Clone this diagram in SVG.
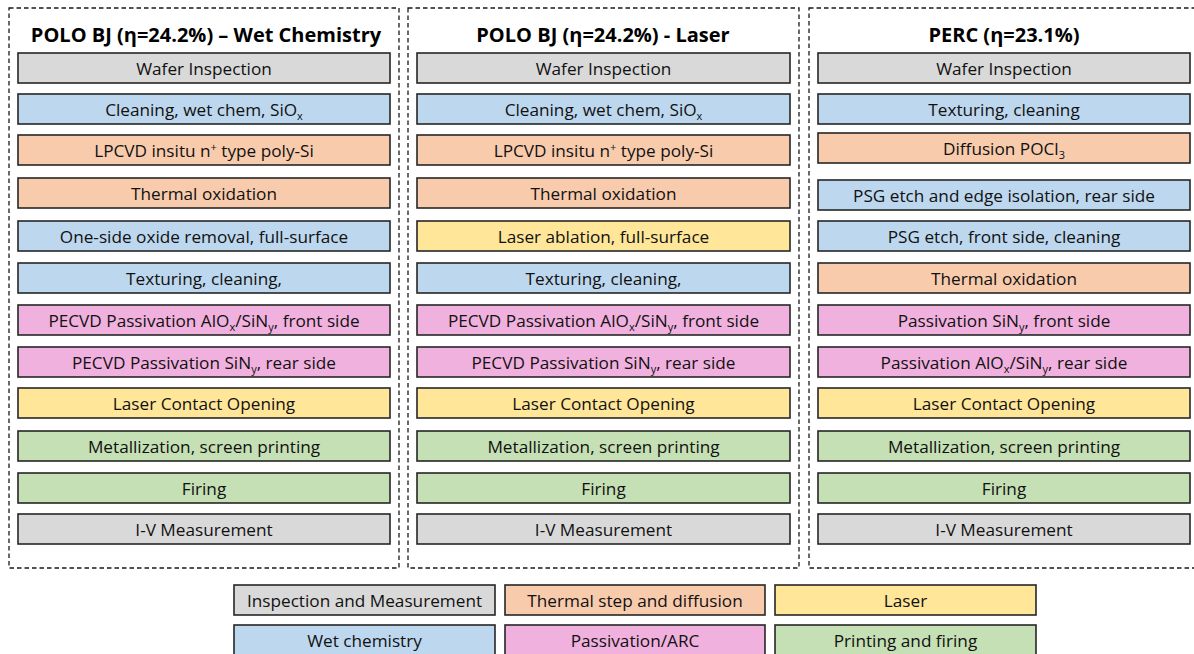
<svg xmlns="http://www.w3.org/2000/svg" width="1194" height="654" viewBox="0 0 1194 654">
<style>
.frame{fill:none;stroke:#1a1a1a;stroke-width:1.3;stroke-dasharray:4.5 3}
.b{stroke:#262626;stroke-width:1.6}
.g{fill:#D9D9D9}.bl{fill:#BDD7EE}.o{fill:#F8CBAD}.y{fill:#FFE699}.p{fill:#F1B1DF}.gr{fill:#C5E0B4}
.t{font-family:"Open Sans","Noto Sans",sans-serif;font-size:17.2px;fill:#111;text-anchor:middle}
.h{font-family:"Open Sans","Noto Sans",sans-serif;font-size:20px;font-weight:bold;fill:#000;text-anchor:middle}
.s{font-size:11px}
</style>
<g id="frames">
<rect class="frame" x="9" y="8" width="390" height="560"/>
<rect class="frame" x="408" y="8" width="391" height="560"/>
<rect class="frame" x="809" y="8" width="390" height="560"/>
</g>
<g id="titles">
<text class="h" x="206" y="42">POLO BJ (η=24.2%) – Wet Chemistry</text>
<text class="h" x="603" y="42">POLO BJ (η=24.2%) - Laser</text>
<text class="h" x="1004" y="42">PERC (η=23.1%)</text>
</g>
<g id="col1">
<g id="c1n1"><rect class="b g" x="18" y="53" width="372" height="30"/><text class="t" x="204" y="75">Wafer Inspection</text></g>
<g id="c1n2"><rect class="b bl" x="18" y="94" width="372" height="30"/><text class="t" x="204" y="116">Cleaning, wet chem, SiO<tspan class="s" dy="4">x</tspan></text></g>
<g id="c1n3"><rect class="b o" x="18" y="135" width="372" height="30"/><text class="t" x="204" y="157">LPCVD insitu n<tspan class="s" dy="-6">+</tspan><tspan dy="6"> type poly-Si</tspan></text></g>
<g id="c1n4"><rect class="b o" x="18" y="178" width="372" height="30"/><text class="t" x="204" y="200">Thermal oxidation</text></g>
<g id="c1n5"><rect class="b bl" x="18" y="221" width="372" height="30"/><text class="t" x="204" y="243">One-side oxide removal, full-surface</text></g>
<g id="c1n6"><rect class="b bl" x="18" y="263" width="372" height="30"/><text class="t" x="204" y="285">Texturing, cleaning,</text></g>
<g id="c1n7"><rect class="b p" x="18" y="305" width="372" height="30"/><text class="t" x="204" y="327">PECVD Passivation AlO<tspan class="s" dy="4">x</tspan><tspan dy="-4">/SiN</tspan><tspan class="s" dy="4">y</tspan><tspan dy="-4">, front side</tspan></text></g>
<g id="c1n8"><rect class="b p" x="18" y="347" width="372" height="30"/><text class="t" x="204" y="369">PECVD Passivation SiN<tspan class="s" dy="4">y</tspan><tspan dy="-4">, rear side</tspan></text></g>
<g id="c1n9"><rect class="b y" x="18" y="388" width="372" height="30"/><text class="t" x="204" y="410">Laser Contact Opening</text></g>
<g id="c1n10"><rect class="b gr" x="18" y="431" width="372" height="30"/><text class="t" x="204" y="453">Metallization, screen printing</text></g>
<g id="c1n11"><rect class="b gr" x="18" y="473" width="372" height="30"/><text class="t" x="204" y="495">Firing</text></g>
<g id="c1n12"><rect class="b g" x="18" y="514" width="372" height="30"/><text class="t" x="204" y="536">I-V Measurement</text></g>
</g>
<g id="col2">
<g id="c2n1"><rect class="b g" x="417" y="53" width="373" height="30"/><text class="t" x="603.5" y="75">Wafer Inspection</text></g>
<g id="c2n2"><rect class="b bl" x="417" y="94" width="373" height="30"/><text class="t" x="603.5" y="116">Cleaning, wet chem, SiO<tspan class="s" dy="4">x</tspan></text></g>
<g id="c2n3"><rect class="b o" x="417" y="135" width="373" height="30"/><text class="t" x="603.5" y="157">LPCVD insitu n<tspan class="s" dy="-6">+</tspan><tspan dy="6"> type poly-Si</tspan></text></g>
<g id="c2n4"><rect class="b o" x="417" y="178" width="373" height="30"/><text class="t" x="603.5" y="200">Thermal oxidation</text></g>
<g id="c2n5"><rect class="b y" x="417" y="221" width="373" height="30"/><text class="t" x="603.5" y="243">Laser ablation, full-surface</text></g>
<g id="c2n6"><rect class="b bl" x="417" y="263" width="373" height="30"/><text class="t" x="603.5" y="285">Texturing, cleaning,</text></g>
<g id="c2n7"><rect class="b p" x="417" y="305" width="373" height="30"/><text class="t" x="603.5" y="327">PECVD Passivation AlO<tspan class="s" dy="4">x</tspan><tspan dy="-4">/SiN</tspan><tspan class="s" dy="4">y</tspan><tspan dy="-4">, front side</tspan></text></g>
<g id="c2n8"><rect class="b p" x="417" y="347" width="373" height="30"/><text class="t" x="603.5" y="369">PECVD Passivation SiN<tspan class="s" dy="4">y</tspan><tspan dy="-4">, rear side</tspan></text></g>
<g id="c2n9"><rect class="b y" x="417" y="388" width="373" height="30"/><text class="t" x="603.5" y="410">Laser Contact Opening</text></g>
<g id="c2n10"><rect class="b gr" x="417" y="431" width="373" height="30"/><text class="t" x="603.5" y="453">Metallization, screen printing</text></g>
<g id="c2n11"><rect class="b gr" x="417" y="473" width="373" height="30"/><text class="t" x="603.5" y="495">Firing</text></g>
<g id="c2n12"><rect class="b g" x="417" y="514" width="373" height="30"/><text class="t" x="603.5" y="536">I-V Measurement</text></g>
</g>
<g id="col3">
<g id="c3n1"><rect class="b g" x="818" y="53" width="372" height="30"/><text class="t" x="1004" y="75">Wafer Inspection</text></g>
<g id="c3n2"><rect class="b bl" x="818" y="94" width="372" height="30"/><text class="t" x="1004" y="116">Texturing, cleaning</text></g>
<g id="c3n3"><rect class="b o" x="818" y="133" width="372" height="30"/><text class="t" x="1004" y="155">Diffusion POCl<tspan class="s" dy="4">3</tspan></text></g>
<g id="c3n4"><rect class="b bl" x="818" y="180" width="372" height="30"/><text class="t" x="1004" y="202">PSG etch and edge isolation, rear side</text></g>
<g id="c3n5"><rect class="b bl" x="818" y="221" width="372" height="30"/><text class="t" x="1004" y="243">PSG etch, front side, cleaning</text></g>
<g id="c3n6"><rect class="b o" x="818" y="263" width="372" height="30"/><text class="t" x="1004" y="285">Thermal oxidation</text></g>
<g id="c3n7"><rect class="b p" x="818" y="305" width="372" height="30"/><text class="t" x="1004" y="327">Passivation SiN<tspan class="s" dy="4">y</tspan><tspan dy="-4">, front side</tspan></text></g>
<g id="c3n8"><rect class="b p" x="818" y="347" width="372" height="30"/><text class="t" x="1004" y="369">Passivation AlO<tspan class="s" dy="4">x</tspan><tspan dy="-4">/SiN</tspan><tspan class="s" dy="4">y</tspan><tspan dy="-4">, rear side</tspan></text></g>
<g id="c3n9"><rect class="b y" x="818" y="388" width="372" height="30"/><text class="t" x="1004" y="410">Laser Contact Opening</text></g>
<g id="c3n10"><rect class="b gr" x="818" y="431" width="372" height="30"/><text class="t" x="1004" y="453">Metallization, screen printing</text></g>
<g id="c3n11"><rect class="b gr" x="818" y="473" width="372" height="30"/><text class="t" x="1004" y="495">Firing</text></g>
<g id="c3n12"><rect class="b g" x="818" y="514" width="372" height="30"/><text class="t" x="1004" y="536">I-V Measurement</text></g>
</g>
<g id="legend">
<g id="lg1"><rect class="b g" x="234" y="585" width="261" height="30"/><text class="t" x="364.5" y="607">Inspection and Measurement</text></g>
<g id="lg2"><rect class="b o" x="505" y="585" width="260" height="30"/><text class="t" x="635" y="607">Thermal step and diffusion</text></g>
<g id="lg3"><rect class="b y" x="775" y="585" width="261" height="30"/><text class="t" x="905.5" y="607">Laser</text></g>
<g id="lg4"><rect class="b bl" x="234" y="625" width="261" height="32"/><text class="t" x="364.5" y="647">Wet chemistry</text></g>
<g id="lg5"><rect class="b p" x="505" y="625" width="260" height="32"/><text class="t" x="635" y="647">Passivation/ARC</text></g>
<g id="lg6"><rect class="b gr" x="775" y="625" width="261" height="32"/><text class="t" x="905.5" y="647">Printing and firing</text></g>
</g>
<g id="connectors"></g>
</svg>
